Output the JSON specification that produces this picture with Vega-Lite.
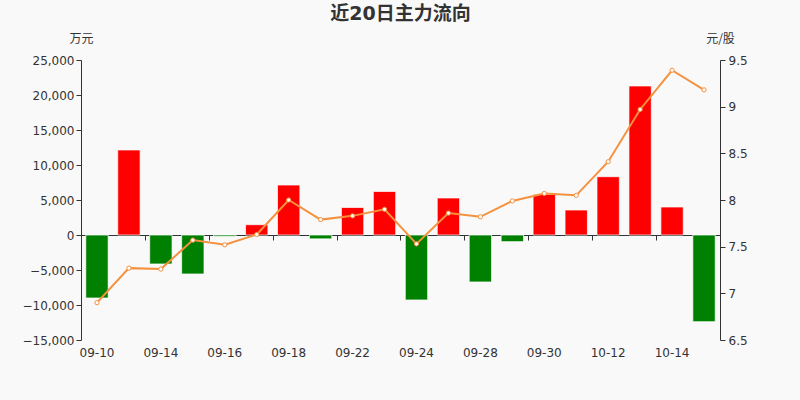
{
  "$schema": "https://vega.github.io/schema/vega-lite/v6.json",
  "autosize": {"type": "none"},
  "width": 639,
  "height": 280,
  "padding": {"left": 81, "top": 60, "right": 80, "bottom": 60},
  "background": "#f9f9f9",
  "title": {
    "text": "近20日主力流向",
    "font": "DejaVu Sans, Noto Sans CJK SC",
    "fontSize": 19,
    "fontWeight": "bold",
    "color": "#333333",
    "anchor": "middle",
    "offset": 8
  },
  "config": {
    "view": {"stroke": null},
    "axis": {
      "grid": false,
      "labelFont": "DejaVu Sans",
      "labelFontSize": 12,
      "labelColor": "#333333",
      "titleFont": "Noto Sans CJK SC",
      "titleFontSize": 12,
      "titleFontWeight": "normal",
      "titleColor": "#333333",
      "domainColor": "#333333",
      "tickColor": "#333333"
    }
  },
  "data": {
    "values": [
      {"date": "09-10", "flow": -9000, "price": 6.90},
      {"date": "09-11", "flow": 12150, "price": 7.27},
      {"date": "09-14", "flow": -4140, "price": 7.26},
      {"date": "09-15", "flow": -5570, "price": 7.57},
      {"date": "09-16", "flow": -200, "price": 7.52},
      {"date": "09-17", "flow": 1470, "price": 7.63},
      {"date": "09-18", "flow": 7140, "price": 8.00},
      {"date": "09-21", "flow": -550, "price": 7.79},
      {"date": "09-22", "flow": 3930, "price": 7.83},
      {"date": "09-23", "flow": 6210, "price": 7.90},
      {"date": "09-24", "flow": -9280, "price": 7.53},
      {"date": "09-25", "flow": 5290, "price": 7.86},
      {"date": "09-28", "flow": -6710, "price": 7.82},
      {"date": "09-29", "flow": -950, "price": 7.99},
      {"date": "09-30", "flow": 5800, "price": 8.07},
      {"date": "10-09", "flow": 3570, "price": 8.05},
      {"date": "10-12", "flow": 8330, "price": 8.41},
      {"date": "10-13", "flow": 21290, "price": 8.97},
      {"date": "10-14", "flow": 4000, "price": 9.39},
      {"date": "10-15", "flow": -12380, "price": 9.18}
    ]
  },
  "layer": [
    {
      "mark": {"type": "bar", "stroke": "#ffffff", "strokeOpacity": 0.7, "strokeWidth": 1},
      "encoding": {
        "x": {
          "field": "date",
          "type": "ordinal",
          "sort": null,
          "scale": {"paddingInner": 0.3, "paddingOuter": 0.15},
          "axis": {
            "orient": "bottom",
            "offset": -105,
            "labels": false,
            "title": null,
            "values": ["09-10", "09-14", "09-16", "09-18", "09-22", "09-24", "09-28", "09-30", "10-12", "10-14"],
            "bandPosition": 0,
            "tickOffset": -4.8,
            "tickSize": 5
          }
        },
        "y": {
          "field": "flow",
          "type": "quantitative",
          "scale": {"domain": [-15000, 25000], "nice": false},
          "axis": {
            "values": [-15000, -10000, -5000, 0, 5000, 10000, 15000, 20000, 25000],
            "format": ",.0f",
            "title": "万元",
            "titleAngle": 0,
            "titleX": 0,
            "titleY": -22,
            "titleAlign": "center",
            "titleBaseline": "middle",
            "tickSize": 5,
            "labelPadding": 2
          }
        },
        "color": {
          "condition": {"test": "datum.flow < 0", "value": "#008000"},
          "value": "#ff0000"
        }
      }
    },
    {
      "mark": {
        "type": "line",
        "color": "#f5913e",
        "strokeWidth": 2,
        "point": {"filled": true, "fill": "#ffffff", "stroke": "#f5913e", "strokeWidth": 1, "size": 18}
      },
      "encoding": {
        "x": {
          "field": "date",
          "type": "ordinal",
          "sort": null,
          "axis": {
            "orient": "bottom",
            "ticks": false,
            "domain": false,
            "title": null,
            "labelAngle": 0,
            "labelPadding": 7,
            "values": ["09-10", "09-14", "09-16", "09-18", "09-22", "09-24", "09-28", "09-30", "10-12", "10-14"]
          }
        },
        "y": {
          "field": "price",
          "type": "quantitative",
          "scale": {"domain": [6.5, 9.5], "nice": false, "zero": false},
          "axis": {
            "orient": "right",
            "values": [6.5, 7, 7.5, 8, 8.5, 9, 9.5],
            "format": "~g",
            "title": "元/股",
            "titleAngle": 0,
            "titleX": 0,
            "titleY": -22,
            "titleAlign": "center",
            "titleBaseline": "middle",
            "tickSize": 5,
            "labelPadding": 3
          }
        }
      }
    }
  ],
  "resolve": {"scale": {"y": "independent"}, "axis": {"x": "independent"}}
}
